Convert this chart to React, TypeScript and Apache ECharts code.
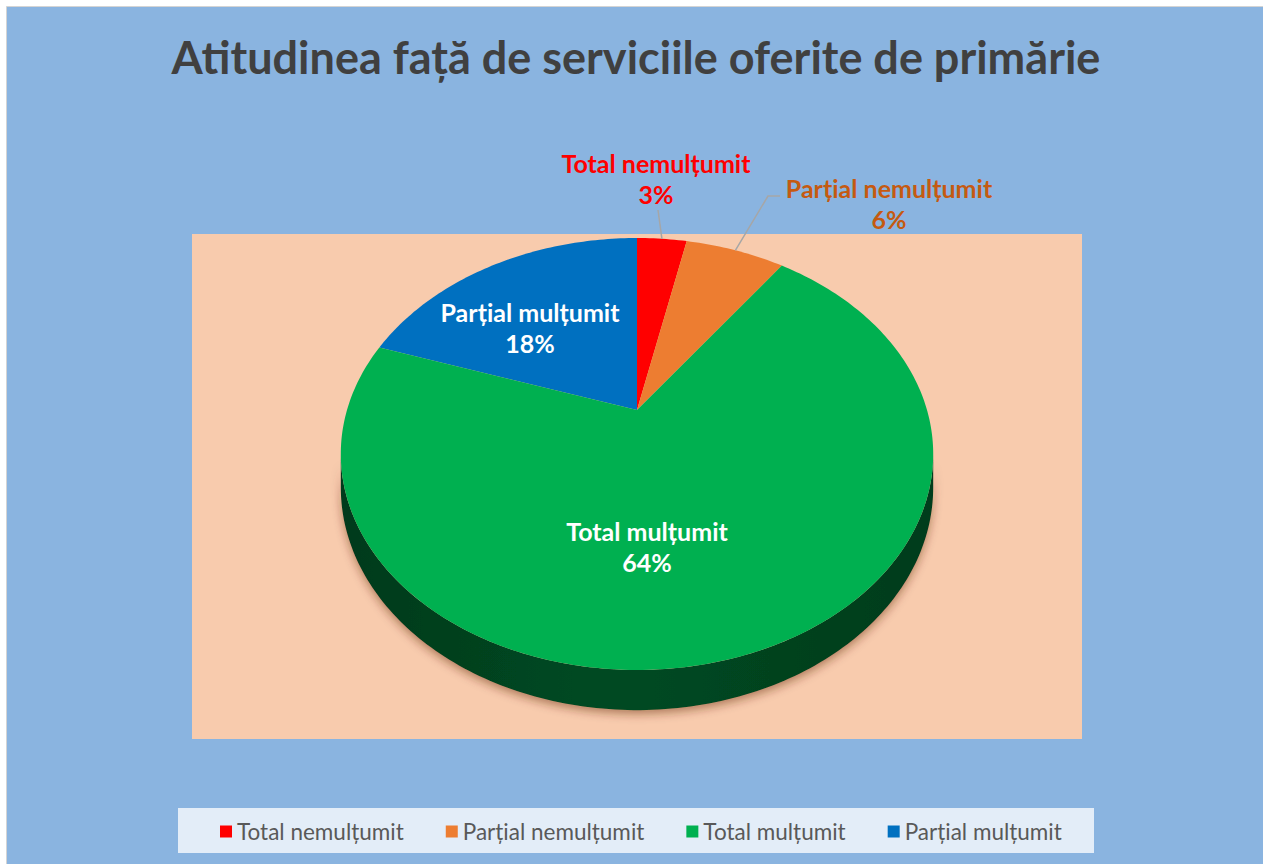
import React, { useEffect, useRef } from "react";
import * as echarts from "echarts";

const categories = ["Total nemulțumit", "Parțial nemulțumit", "Total mulțumit", "Parțial mulțumit"];
const values = [3, 6, 64, 18];
const sliceColors = ["#FF0000", "#ED7D31", "#00B050", "#0070C0"];
const labelColors = ["#FF0000", "#C55A11", "#FFFFFF", "#FFFFFF"];
const titleText = "Atitudinea față de serviciile oferite de primărie";

// layout (not data)
const CX = 637, CY = 410, KY = 207, MX = 290, PERSP = 0.2037, DEPTH = 32;
const labelPos: [number, number][] = [[656, 178], [889, 203], [647, 546], [530, 327]];
const leaderStart: ([number, number][] | null)[] = [[[658, 210]], [[780, 196], [768, 196]], null, null];
const FONT = "Lato";

function proj(theta: number, r: number, drop: number): [number, number] {
  const a = r * Math.sin(theta);
  const b = -r * Math.cos(theta);
  const den = 1 - PERSP * b;
  return [CX + (MX * a) / den, CY + (KY * b + DEPTH * drop) / den];
}

function arc(t1: number, t2: number, drop: number) {
  const pts: [number, number][] = [];
  const n = Math.max(2, Math.ceil(((t2 - t1) * 180) / Math.PI));
  for (let i = 0; i <= n; i++) pts.push(proj(t1 + ((t2 - t1) * i) / n, 1, drop));
  return pts;
}

const total = values.reduce((s, v) => s + v, 0);
const starts: number[] = [];
{
  let acc = 0;
  values.forEach((v) => {
    starts.push((acc / total) * Math.PI * 2);
    acc += v;
  });
}

function makeRender(i: number) {
  return () => {
    const t1 = starts[i];
    const t2 = t1 + (values[i] / total) * Math.PI * 2;
    const children: any[] = [];
    const sR = Math.acos(-PERSP);
    const sL = Math.PI * 2 - sR;
    const s1 = Math.max(t1, sR), s2 = Math.min(t2, sL);
    if (s2 > s1) {
      const top = arc(s1, s2, 0);
      const bot = arc(s1, s2, 1).reverse();
      children.push({
        type: "polygon",
        shape: { points: top.concat(bot) },
        style: {
          fill: new echarts.graphic.LinearGradient(0, 0, 1, 0, [
            { offset: 0, color: "#003a1c" },
            { offset: 0.45, color: "#004a22" },
            { offset: 1, color: "#003c1c" },
          ]),
          shadowBlur: 10,
          shadowOffsetY: 4,
          shadowColor: "rgba(90,40,10,0.45)",
        },
      });
    }
    children.push({
      type: "polygon",
      shape: { points: [[CX, CY] as [number, number]].concat(arc(t1, t2, 0)) },
      style: { fill: sliceColors[i] },
    });
    const ls = leaderStart[i];
    if (ls) {
      const mid = (t1 + t2) / 2;
      children.push({
        type: "polyline",
        shape: { points: ls.concat([proj(mid, 1, 0)]) },
        style: { stroke: "#A6A6A6", lineWidth: 1.5, fill: null },
      });
    }
    children.push({
      type: "text",
      x: labelPos[i][0],
      y: labelPos[i][1],
      style: {
        text: categories[i] + "\n" + values[i] + "%",
        fill: labelColors[i],
        fontFamily: FONT,
        fontWeight: "bold",
        fontSize: 25,
        lineHeight: 31,
        align: "center",
        verticalAlign: "middle",
      },
    });
    return { type: "group", children };
  };
}

export default function App() {
  const ref = useRef<HTMLDivElement>(null);
  useEffect(() => {
    if (!ref.current) return;
    const chart = echarts.init(ref.current, null, { renderer: "svg" });
    chart.setOption({
      animation: false,
      backgroundColor: "#ffffff",
      graphic: [
        {
          type: "rect",
          shape: { x: 6.5, y: 6.5, width: 1300, height: 900 },
          style: { fill: "#8AB4E0", stroke: "#D4D4D4", lineWidth: 1 },
          z: 0,
        },
        {
          type: "rect",
          shape: { x: 192, y: 234, width: 890, height: 505 },
          style: { fill: "#F8CBAD" },
          z: 0,
        },
        {
          type: "rect",
          shape: { x: 178, y: 808, width: 916, height: 45 },
          style: { fill: "#E3EDF8" },
          z: 0,
        },
        {
          type: "text",
          x: 636,
          y: 57,
          style: {
            text: titleText,
            fill: "#404040",
            fontFamily: FONT,
            fontWeight: "bold",
            fontSize: 45,
            align: "center",
            verticalAlign: "middle",
          },
          z: 1,
        },
      ],
      legend: {
        data: categories,
        left: 220,
        top: 820,
        padding: 0,
        icon: "rect",
        itemWidth: 12,
        itemHeight: 12,
        itemGap: 42,
        textStyle: { color: "#595959", fontFamily: FONT, fontSize: 22.5 },
        selectedMode: false,
      },
      series: categories.map((name, i) => ({
        type: "custom",
        name,
        coordinateSystem: "none",
        silent: true,
        itemStyle: { color: sliceColors[i] },
        data: [[values[i]]],
        renderItem: makeRender(i),
        z: i === 2 ? 3 : 2,
      })),
    });
    return () => chart.dispose();
  }, []);
  return <div ref={ref} style={{ position: "fixed", left: 0, top: 0, width: 1263, height: 864 }} />;
}
